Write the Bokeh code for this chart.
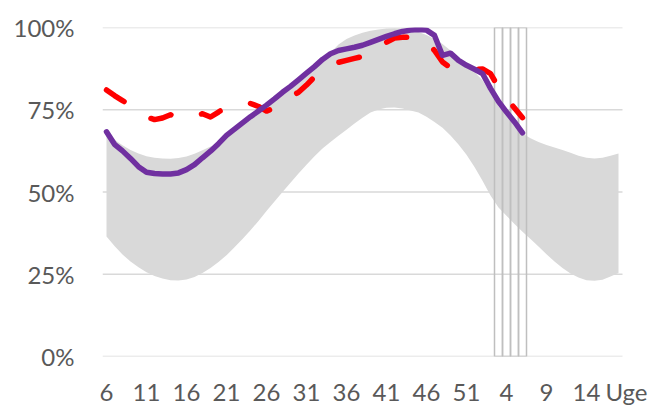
from bokeh.plotting import figure
from bokeh.models import Range1d, FixedTicker, PrintfTickFormatter, BoxAnnotation
from bokeh.embed import file_html
from bokeh.resources import INLINE

# Week categories: week 6..52, then 1..18 of the following year
weeks = list(range(6, 53)) + list(range(1, 19))

# Historical band (percent)
upper = [67.8, 65.9, 64.2, 62.8, 61.7, 60.9, 60.4, 60.2, 60.1, 60.3,
         60.8, 61.6, 62.7, 63.8, 64.3, 66.5, 68.5, 70.5, 72.4, 74.1,
         75.8, 77.8, 79.8, 81.6, 83.6, 85.6, 87.6, 89.9, 92.3, 94.8,
         96.5, 97.6, 98.4, 99.0, 99.4, 99.7, 99.8, 99.7, 99.4, 98.6,
         97.7, 96.5, 95.0, 93.0, 90.5, 88.5, 86.5, 84.0, 80.0, 76.0,
         73.0, 70.0, 67.8, 66.3, 65.2, 64.3, 63.5, 62.8, 61.9, 61.0,
         60.4, 60.2, 60.4, 61.0, 61.7]
lower = [36.5, 33.6, 31.0, 28.9, 27.1, 25.6, 24.5, 23.7, 23.2, 23.1,
         23.4, 24.2, 25.4, 26.9, 28.7, 30.8, 33.2, 35.7, 38.4, 41.2,
         44.2, 47.1, 50.0, 52.8, 55.6, 58.3, 60.9, 63.2, 65.2, 67.1,
         68.9, 70.8, 72.6, 74.2, 75.1, 75.6, 75.7, 75.4, 74.8, 74.2,
         72.9, 71.3, 69.5, 67.2, 64.4, 61.3, 57.6, 53.4, 48.9, 45.3,
         42.8, 40.3, 37.9, 35.7, 33.4, 31.1, 28.9, 26.9, 25.2, 24.0,
         23.2, 23.0, 23.3, 24.3, 25.4]

# Current season (purple) and previous season (red dashed), percent
current = [68.3, 64.5, 62.5, 60.2, 57.7, 56.0, 55.6, 55.5, 55.5, 55.8,
           56.8, 58.3, 60.4, 62.4, 64.7, 67.2, 69.1, 71.0, 72.9, 74.6,
           76.4, 78.3, 80.3, 82.1, 84.1, 86.1, 88.1, 90.3, 92.0, 93.0,
           93.5, 94.0, 94.6, 95.5, 96.4, 97.3, 98.1, 98.8, 99.2, 99.4,
           99.2, 97.6, 91.5, 92.2, 90.0, 88.5, 87.3, 86.0, 81.5, 77.5,
           74.3, 71.3, 68.0]
previous = [81.0, 79.3, 77.8, 76.3, 74.5, 72.8, 72.0, 72.5, 73.5, 72.3,
            72.5, 73.0, 73.8, 72.8, 74.3, 75.9, 76.5, 76.8, 76.9, 76.0,
            74.6, 75.5, 77.2, 79.0, 80.3, 82.5, 85.0, 87.0, 88.4, 89.4,
            90.0, 90.6, 91.2, 91.7, 93.5, 95.5, 96.8, 97.0, 97.1, 96.9,
            96.0, 93.0, 89.5, 87.8, 87.5, 87.3, 87.2, 87.4, 86.0, 81.8,
            78.5, 75.5, 72.6]

# Highlighted weeks in the new year
highlight_weeks = [3, 4, 5, 6]
y_ticks = [0, 25, 50, 75, 100]
axis_end_label = "Uge"

x = list(range(len(weeks)))
n_cat = len(weeks)
new_year_start = weeks.index(1)
hl_x = [new_year_start + w - 1 for w in highlight_weeks]
tick_idx = list(range(0, n_cat, 5))
labels = {i: str(weeks[i]) for i in tick_idx}
labels[n_cat] = axis_end_label  # axis title slot after the last category

FONT = "Lato"
TXT = "#595959"
GRID = "#d9d9d9"

p = figure(width=657, height=408, output_backend="svg", toolbar_location=None,
           x_range=Range1d(-0.5, n_cat + 0.5), y_range=Range1d(0, 100),
           min_border_left=102, min_border_right=27, min_border_top=27,
           min_border_bottom=51)
p.outline_line_color = None
p.background_fill_color = "white"
p.border_fill_color = "white"
p.grid.visible = False

# chart-area border (top and left edges visible in the crop)
p.add_layout(BoxAnnotation(left=5, right=700, top=8, bottom=500,
                           left_units="canvas", right_units="canvas",
                           top_units="canvas", bottom_units="canvas",
                           fill_alpha=0, line_color=GRID, line_width=1.5))

# horizontal gridlines spanning the category area only
p.segment(x0=-0.5, x1=n_cat - 0.5, y0=y_ticks, y1=y_ticks,
          line_color=GRID, line_width=1.5)

p.varea(x=x, y1=lower, y2=upper, fill_color="#d9d9d9")
p.vbar(x=hl_x, width=1, top=100, bottom=0, fill_color=None,
       line_color="#bfbfbf", line_width=1.5)
n = len(previous)
p.line(x[:n], previous, line_color="#ff0000", line_width=5.5,
       line_dash="21 32", line_cap="round", line_join="round")
p.line(x[:len(current)], current, line_color="#7030a0", line_width=5.5,
       line_cap="round", line_join="round")

p.yaxis.ticker = FixedTicker(ticks=y_ticks)
p.yaxis.formatter = PrintfTickFormatter(format="%d%%")
p.xaxis.ticker = FixedTicker(ticks=tick_idx + [n_cat])
p.xaxis.major_label_overrides = labels
for ax in (p.xaxis, p.yaxis):
    ax.axis_line_color = None
    ax.major_tick_line_color = None
    ax.minor_tick_line_color = None
    ax.major_tick_out = 0
    ax.major_tick_in = 0
    ax.minor_tick_out = 0
    ax.major_label_text_font = FONT
    ax.major_label_text_font_size = "24px"
    ax.major_label_text_color = TXT
p.yaxis.major_label_standoff = 28
p.xaxis.major_label_standoff = 20

open("out.html", "w").write(file_html(p, INLINE))
